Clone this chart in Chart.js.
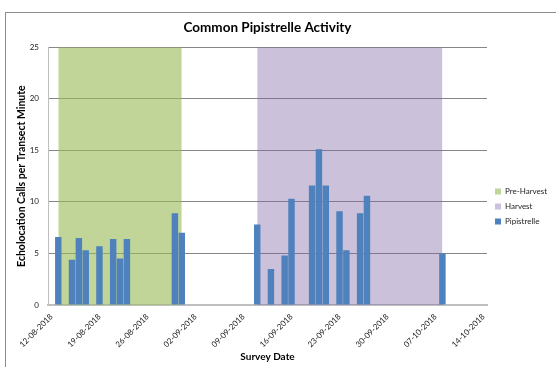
<!DOCTYPE html>
<html>
<head>
<meta charset="utf-8">
<title>Common Pipistrelle Activity</title>
<script src="https://cdn.jsdelivr.net/npm/chart.js@4/dist/chart.umd.min.js"></script>
<style>
  html, body { margin: 0; padding: 0; background: #fff; }
  .c-chart { position: relative; width: 556px; height: 367px; overflow: hidden; }
  .c-chart__frame { position: absolute; left: 5px; top: 12px; width: 700px; height: 500px;
    border-left: 1px solid #8c8c8c; border-top: 1px solid #8c8c8c; }
  .c-chart canvas { position: absolute; left: 0; top: 0; }
</style>
</head>
<body>
<div class="c-chart">
  <div class="c-chart__frame"></div>
  <canvas class="js-chart" width="556" height="367"></canvas>
</div>
<script>
//#region ***  Data                                      ***********
const firstDay = "12-08-2018";
const lastDay = "14-10-2018";

const surveyDates = [
  "13-08-2018", "15-08-2018", "16-08-2018", "17-08-2018", "19-08-2018",
  "21-08-2018", "22-08-2018", "23-08-2018", "30-08-2018", "31-08-2018",
  "11-09-2018", "13-09-2018", "15-09-2018", "16-09-2018", "19-09-2018",
  "20-09-2018", "21-09-2018", "23-09-2018", "24-09-2018", "26-09-2018",
  "27-09-2018", "08-10-2018"
];
const pipistrelle = [
  6.6, 4.4, 6.5, 5.3, 5.7,
  6.4, 4.5, 6.4, 8.9, 7.0,
  7.8, 3.5, 4.8, 10.3, 11.6,
  15.1, 11.6, 9.1, 5.3, 8.9,
  10.6, 5.0
];

const preHarvest = ["13-08-2018", "31-08-2018"];
const harvest = ["11-09-2018", "08-10-2018"];
const shadeLevel = 25;

const yTicks = [0, 5, 10, 15, 20, 25];
//#endregion

//#region ***  Helpers                                   ***********
const toDate = function (txt) {
  const [d, m, y] = txt.split("-").map(Number);
  return Date.UTC(y, m - 1, d);
};

const formatDate = function (ms) {
  const dt = new Date(ms);
  const dd = String(dt.getUTCDate()).padStart(2, "0");
  const mm = String(dt.getUTCMonth() + 1).padStart(2, "0");
  return `${dd}-${mm}-${dt.getUTCFullYear()}`;
};

const buildDays = function () {
  const days = [];
  const oneDay = 24 * 3600 * 1000;
  for (let t = toDate(firstDay); t <= toDate(lastDay); t += oneDay) {
    days.push(formatDate(t));
  }
  return days;
};

const buildBars = function (days) {
  return days.map((d) => {
    const i = surveyDates.indexOf(d);
    return i === -1 ? null : pipistrelle[i];
  });
};

const buildShade = function (days, range) {
  const from = toDate(range[0]);
  const to = toDate(range[1]);
  return days.map((d) => {
    const t = toDate(d);
    return t >= from && t <= to ? shadeLevel : null;
  });
};

// excel legend sits a bit lower than the middle of the plot
const legendShift = {
  id: "legendShift",
  afterLayout(chart) {
    chart.legend.top += 24;
    chart.legend.bottom += 24;
    chart.legend.left += 1;
    chart.legend.right += 1;
  },
};
//#endregion

//#region ***  Chart                                     ***********
const showChart = function () {
  const days = buildDays();
  const fontName = "Lato, 'Open Sans', sans-serif";

  new Chart(document.querySelector(".js-chart"), {
    type: "bar",
    data: {
      labels: days,
      datasets: [
        {
          label: "Pipistrelle",
          data: buildBars(days),
          backgroundColor: "#4f81bd",
          borderWidth: 0,
          barPercentage: 0.94,
          categoryPercentage: 1,
          order: 0,
        },
        {
          type: "line",
          label: "Harvest",
          data: buildShade(days, harvest),
          backgroundColor: "rgba(128, 100, 162, 0.4)",
          borderColor: "rgba(128, 100, 162, 0.4)",
          borderWidth: 0,
          pointRadius: 0,
          fill: "origin",
          spanGaps: false,
          order: 1,
        },
        {
          type: "line",
          label: "Pre-Harvest",
          data: buildShade(days, preHarvest),
          backgroundColor: "rgba(155, 187, 89, 0.62)",
          borderColor: "rgba(155, 187, 89, 0.62)",
          borderWidth: 0,
          pointRadius: 0,
          fill: "origin",
          spanGaps: false,
          order: 2,
        },
      ],
    },
    options: {
      responsive: false,
      animation: false,
      layout: { padding: { left: 10, right: 0, top: 0, bottom: 2 } },
      plugins: {
        tooltip: { enabled: false },
        title: {
          display: true,
          text: "Common Pipistrelle Activity",
          fullSize: false,
          color: "#000",
          font: { family: fontName, size: 13.5, weight: "bold" },
          padding: { top: 20, bottom: 11 },
        },
        legend: {
          position: "right",
          reverse: true,
          maxWidth: 69,
          labels: {
            boxWidth: 6,
            boxHeight: 6,
            padding: 7,
            color: "#222",
            font: { family: fontName, size: 8 },
          },
        },
      },
      scales: {
        x: {
          afterFit: (axis) => {
            axis.height = 60;
          },
          grid: { display: false, drawTicks: false },
          border: { color: "#bfbfbf", width: 2 },
          ticks: {
            autoSkip: false,
            minRotation: 45,
            maxRotation: 45,
            padding: 7,
            color: "#222",
            font: { family: fontName, size: 8 },
            callback: function (value, index) {
              return index % 7 === 0 ? days[index] : "";
            },
          },
          title: {
            display: true,
            text: "Survey Date",
            color: "#000",
            font: { family: fontName, size: 10, weight: "bold" },
            padding: { top: 0, bottom: 2 },
          },
        },
        y: {
          min: yTicks[0],
          max: yTicks[yTicks.length - 1],
          afterBuildTicks: (axis) => {
            axis.ticks = yTicks.map((v) => ({ value: v }));
          },
          afterFit: (axis) => {
            axis.width = 38;
          },
          grid: { color: "#868686", drawTicks: false },
          border: { color: "#bfbfbf" },
          ticks: {
            padding: 9,
            color: "#222",
            font: { family: fontName, size: 8 },
          },
          title: {
            display: true,
            text: "Echolocation Calls per Transect Minute",
            color: "#000",
            font: { family: fontName, size: 10.5, weight: "bold" },
            padding: { top: 5, bottom: 2 },
          },
        },
      },
    },
    plugins: [legendShift],
  });
};
//#endregion

//#region ***  Init / DOMContentLoaded                  ***********
const init = function () {
  showChart();
};

document.addEventListener("DOMContentLoaded", init);
//#endregion
</script>
</body>
</html>
